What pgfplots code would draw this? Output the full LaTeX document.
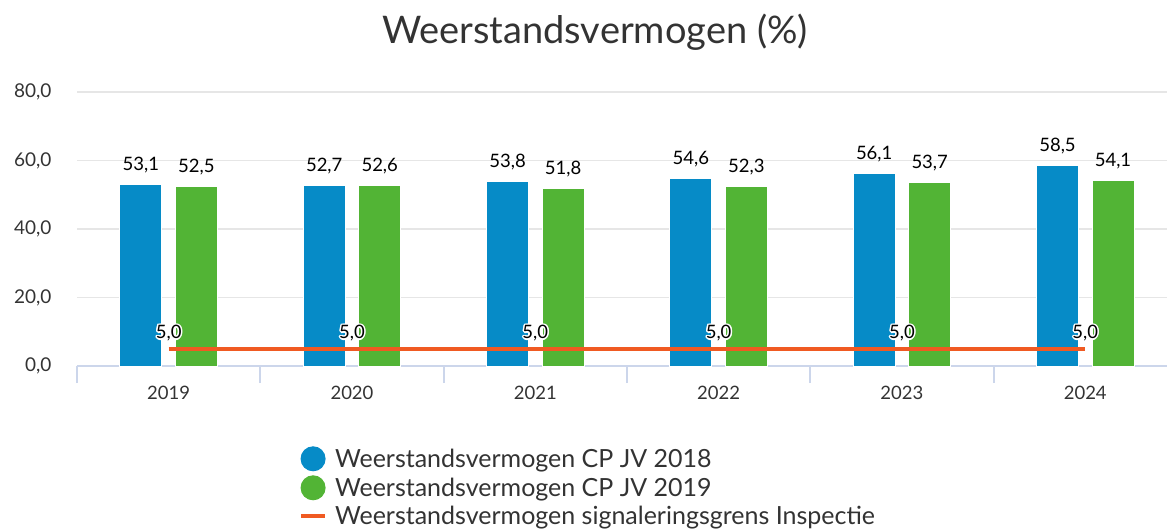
\documentclass[border=0pt]{standalone}
\usepackage{fontspec}
\setmainfont{Lato}
\usepackage{pgfplots}
\pgfplotsset{compat=1.18}
\definecolor{blueC}{HTML}{068BC7}
\definecolor{greenC}{HTML}{52B435}
\definecolor{orangeC}{HTML}{F05A22}
\definecolor{gridC}{HTML}{E6E6E6}
\definecolor{axisC}{HTML}{CCD6EB}
\definecolor{txt}{HTML}{333333}
\def\haloshift#1#2{\rlap{\kern#1\raisebox{#2}{\color{white}\copy0}}}
\newcommand\halo[1]{\setbox0\hbox{#1}\haloshift{1.5pt}{0pt}\haloshift{-1.5pt}{0pt}\haloshift{0pt}{1.5pt}\haloshift{0pt}{-1.5pt}\haloshift{1.1pt}{1.1pt}\haloshift{-1.1pt}{1.1pt}\haloshift{1.1pt}{-1.1pt}\haloshift{-1.1pt}{-1.1pt}\box0}
\begin{document}
\begin{tikzpicture}[x=1pt,y=1pt]
\useasboundingbox (0,0) rectangle (1167,530);
\node[font=\fontsize{38}{42}\selectfont, text=txt, anchor=base] at (595,486) {Weerstandsvermogen (\%)};
\begin{axis}[
  at={(77pt,164pt)}, anchor=south west,
  scale only axis, width=1100pt, height=274pt,
  xmin=-0.5, xmax=5.5, ymin=0, ymax=80,
  ybar=13.5pt, bar width=42pt,
  axis x line*=bottom, axis y line*=left,
  y axis line style={draw=none},
  x axis line style={draw=axisC, line width=2pt, -},
  ytick={0,20,...,80},
  ymajorgrids, grid style={draw=gridC, line width=1.5pt},
  ytick style={draw=none},
  xtick={0,...,5}, xticklabels={2019,2020,2021,2022,2023,2024},
  xtick style={draw=none},
  extra x ticks={-0.5,0.5,1.5,2.5,3.5,4.5,5.5},
  extra x tick labels={},
  extra x tick style={tick align=outside, major tick length=17pt, xtick style={draw=axisC, line width=2pt}},
  xticklabel style={font=\fontsize{18.5}{20}\selectfont, text=txt, yshift=-12pt},
  yticklabel style={font=\fontsize{19}{20}\selectfont, text=txt, xshift=-22pt},
  yticklabel={\pgfmathprintnumber[fixed, fixed zerofill, precision=1, use comma]{\tick}},
  legend style={at={(0.199,-0.285)}, anchor=north west, draw=none, fill=none,
    font=\fontsize{25}{27}\selectfont, text=txt, row sep=4pt, column sep=6pt, legend cell align=left},
  /pgf/number format/assume math mode=true,
]
\addplot[fill=blueC, draw=white, line width=1pt,
  nodes near coords={\pgfmathprintnumber[fixed, fixed zerofill, precision=1, use comma]{\pgfplotspointmeta}},
  nodes near coords style={font=\fontsize{18.5}{20}\selectfont, text=black, anchor=base, yshift=14pt},
  legend image code/.code={\fill[blueC] (5pt,0pt) circle (12pt);}]
  coordinates {(0,53.1) (1,52.7) (2,53.8) (3,54.6) (4,56.1) (5,58.5)};
\addlegendentry{Weerstandsvermogen CP JV 2018}
\addplot[fill=greenC, draw=white, line width=1pt,
  nodes near coords={\pgfmathprintnumber[fixed, fixed zerofill, precision=1, use comma]{\pgfplotspointmeta}},
  nodes near coords style={font=\fontsize{18.5}{20}\selectfont, text=black, anchor=base, yshift=14pt},
  legend image code/.code={\fill[greenC] (5pt,0pt) circle (12pt);}]
  coordinates {(0,52.5) (1,52.6) (2,51.8) (3,52.3) (4,53.7) (5,54.1)};
\addlegendentry{Weerstandsvermogen CP JV 2019}
\addplot[sharp plot, draw=orangeC, line width=4pt, mark=none,
  nodes near coords={\halo{\pgfmathprintnumber[fixed, fixed zerofill, precision=1, use comma]{\pgfplotspointmeta}}},
  nodes near coords style={font=\fontsize{18.5}{20}\selectfont, text=black, anchor=base, yshift=10pt},
  legend image code/.code={\path[draw=none, fill=none] (5pt,-12pt) rectangle (5.1pt,12pt);\draw[orangeC, line width=4pt] (-7pt,0pt) -- (17pt,0pt);}]
  coordinates {(0,5) (1,5) (2,5) (3,5) (4,5) (5,5)};
\addlegendentry{Weerstandsvermogen signaleringsgrens Inspectie}
\end{axis}
\end{tikzpicture}
\end{document}
